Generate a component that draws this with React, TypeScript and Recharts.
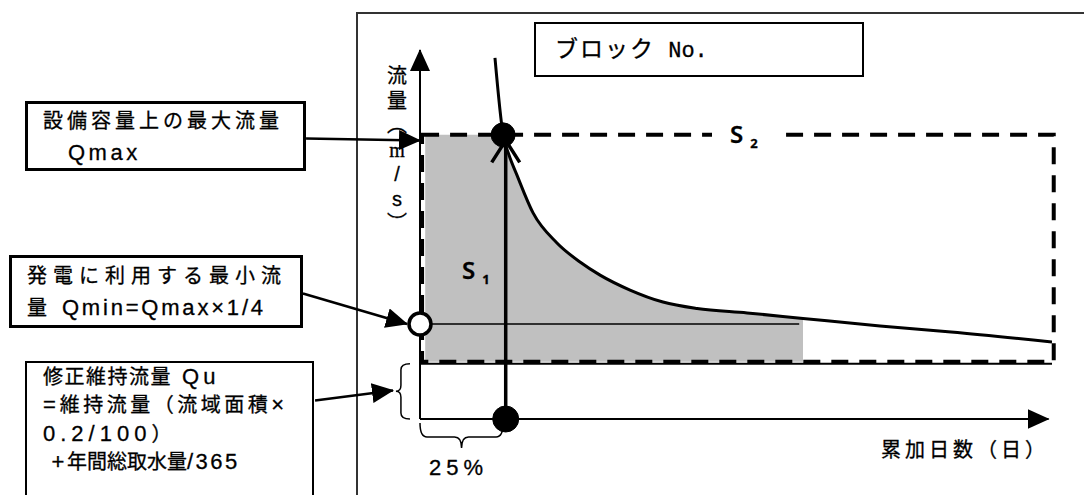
import {
  Area,
  ComposedChart,
  Line,
  ReferenceArea,
  ReferenceDot,
  ReferenceLine,
  XAxis,
  YAxis,
} from 'recharts'

const W = 1084
const H = 495
const FONT = '"Liberation Sans", Arial, "Noto Sans CJK JP", sans-serif'

// 流況曲線：累加日数（日） / 流量（m3/s）
const curveDays = [43.3, 48, 51.4, 56, 65.3, 79.1, 92.4, 104, 121.3, 140.3, 160, 188.9, 221.2, 265.7, 306.7, 365]
const curveFlow = [19.57, 15.4, 14.31, 13.22, 11.17, 9.54, 8.51, 7.8, 6.99, 6.34, 5.99, 5.75, 5.45, 5.04, 4.72, 4.17]

// 軸の範囲
const dayMax = 365
const flowMax = 20
const dayAxisEnd = 363

// 流量の基準値
const qmax = 15.4
const qmin = 5.15
const qu = 3.0

// S1 / S2 の範囲
const s2Bottom = 3.1
const s2Left = 1.2
const s2Right = 366
const s1Start = 3
const s1End = 221.2
const qminEnd = 219

// Qmax との交点と 25% の位置
const crossDay = 48
const arrowDay = 49.5
const arrowTop = 15.1

// 引出線（日, 流量）: 始点 → 矢印先端
const calloutTailDay = [-65.8, -67.6, -60.6]
const calloutTailFlow = [15.2, 6.8, 1.0]
const calloutTipDay = [0, -7.5, -15.6]
const calloutTipFlow = [15.1, 5.15, 1.55]

// 括弧
const quBraceDays = [-13.9, -5.8]
const pctBraceFlow = [-1.57, -0.22]

const curveData = curveDays.map((day, i) => ({ day, flow: curveFlow[i] }))
const s1Data = [
  { day: s1Start, range: [s2Bottom, qmax] },
  ...curveData
    .filter((p) => p.day >= crossDay && p.day <= s1End)
    .map((p) => ({ day: p.day, range: [s2Bottom, Math.min(p.flow, qmax)] })),
]

const LATIN = /[\x20-\x7e×]/

function Mixed({ text, latin = 3, cjk = 0, latinSize = 22 }: { text: string; latin?: number; cjk?: number; latinSize?: number }) {
  const runs = text.match(/[\x20-\x7e×]+|[^\x20-\x7e×]+/g) ?? []
  return (
    <>
      {runs.map((r, i) =>
        LATIN.test(r[0]) ? (
          <span key={i} style={{ fontSize: latinSize, letterSpacing: latin }}>{r}</span>
        ) : (
          <span key={i} style={{ letterSpacing: cjk }}>{r}</span>
        ),
      )}
    </>
  )
}

function LeftBrace({ x, y, width, height }: any) {
  const s = x + 5
  const c = 6
  const cy = y + height / 2
  const d = `M${x + width},${y} Q${s},${y} ${s},${y + c} L${s},${cy - c} Q${s},${cy} ${x},${cy} Q${s},${cy} ${s},${cy + c} L${s},${y + height - c} Q${s},${y + height} ${x + width},${y + height}`
  return <path d={d} fill="none" stroke="#000" strokeWidth={1.5} />
}

function DownBrace({ x, y, width, height }: any) {
  const m = y + height * 0.56
  const c = 7
  const cx = x + width / 2
  const d = `M${x},${y} Q${x},${m} ${x + c},${m} L${cx - c},${m} Q${cx},${m} ${cx},${y + height} Q${cx},${m} ${cx + c},${m} L${x + width - c},${m} Q${x + width},${m} ${x + width},${y}`
  return <path d={d} fill="none" stroke="#000" strokeWidth={1.5} />
}

const box: React.CSSProperties = {
  position: 'absolute',
  boxSizing: 'border-box',
  background: '#fff',
  fontFamily: FONT,
  fontSize: 20,
  color: '#000',
  whiteSpace: 'pre',
  WebkitTextStroke: '0.3px #000',
}

const yLabel = ['流', '量', '︵', 'm', '/', 's', '︶']

export default function App() {
  return (
    <div style={{ position: 'absolute', left: 0, top: 0, width: W, height: H, background: '#fff', overflow: 'hidden' }}>
      <div
        style={{
          position: 'absolute',
          left: 356,
          top: 12,
          width: W,
          height: H,
          borderLeft: '2px solid #333',
          borderTop: '2px solid #333',
        }}
      />
      <div style={{ position: 'absolute', left: 0, top: 0 }}>
        <ComposedChart width={W} height={H} margin={{ top: 50, right: 32, bottom: 76, left: 420 }}>
          <defs>
            <marker
              id="solid-head"
              viewBox="0 0 22 20"
              refX={21}
              refY={10}
              markerWidth={22}
              markerHeight={20}
              markerUnits="userSpaceOnUse"
              orient="auto"
            >
              <path d="M0,0 L22,10 L0,20 Z" fill="#000" />
            </marker>
            <marker
              id="open-head"
              viewBox="-25 -16 28 32"
              refX={0}
              refY={0}
              markerWidth={28}
              markerHeight={32}
              markerUnits="userSpaceOnUse"
              orient="auto"
            >
              <path d="M-22,-14 L0,0 L-22,14" fill="none" stroke="#000" strokeWidth={3.5} />
            </marker>
          </defs>
          <XAxis type="number" dataKey="day" domain={[0, dayMax]} allowDataOverflow hide height={0} />
          <YAxis type="number" domain={[0, flowMax]} allowDataOverflow hide width={0} />
          <Area
            data={s1Data}
            dataKey="range"
            type="monotone"
            stroke="none"
            fill="#c0c0c0"
            fillOpacity={1}
            isAnimationActive={false}
          />
          {/* axes with arrow heads */}
          <ReferenceLine
            segment={[{ x: 0, y: 0 }, { x: 0, y: flowMax }]}
            stroke="#000"
            strokeWidth={2}
            markerEnd="url(#solid-head)"
          />
          <ReferenceLine
            segment={[{ x: 0, y: 0 }, { x: dayAxisEnd, y: 0 }]}
            stroke="#000"
            strokeWidth={2}
            markerEnd="url(#solid-head)"
          />
          <ReferenceLine y={qu} stroke="#000" strokeWidth={2} />
          <ReferenceArea
            x1={s2Left}
            x2={s2Right}
            y1={s2Bottom}
            y2={qmax}
            ifOverflow="visible"
            fill="none"
            fillOpacity={0}
            stroke="#000"
            strokeWidth={4}
            strokeDasharray="17 11"
          />
          <ReferenceLine
            segment={[{ x: 0, y: qmin }, { x: qminEnd, y: qmin }]}
            stroke="#000"
            strokeWidth={1.5}
          />
          <Line
            data={curveData}
            dataKey="flow"
            type="monotone"
            stroke="#000"
            strokeWidth={3}
            dot={false}
            isAnimationActive={false}
          />
          <ReferenceLine
            segment={[{ x: arrowDay, y: 0 }, { x: arrowDay, y: arrowTop }]}
            stroke="#000"
            strokeWidth={3.5}
            markerEnd="url(#open-head)"
          />
          {calloutTailDay.map((d, i) => (
            <ReferenceLine
              key={`callout-${i}`}
              segment={[
                { x: d, y: calloutTailFlow[i] },
                { x: calloutTipDay[i], y: calloutTipFlow[i] },
              ]}
              ifOverflow="visible"
              stroke="#000"
              strokeWidth={2.5}
              markerEnd="url(#solid-head)"
            />
          ))}
          <ReferenceArea
            x1={quBraceDays[0]}
            x2={quBraceDays[1]}
            y1={0}
            y2={qu}
            ifOverflow="visible"
            shape={LeftBrace}
          />
          <ReferenceArea
            x1={0}
            x2={crossDay}
            y1={pctBraceFlow[0]}
            y2={pctBraceFlow[1]}
            ifOverflow="visible"
            shape={DownBrace}
          />
          <ReferenceDot x={crossDay} y={qmax} r={12} fill="#000" stroke="#000" ifOverflow="visible" />
          <ReferenceDot x={arrowDay} y={0} r={13} fill="#000" stroke="#000" ifOverflow="visible" />
          <ReferenceDot x={0} y={qmin} r={11} fill="#fff" stroke="#000" strokeWidth={3.5} ifOverflow="visible" />
        </ComposedChart>
      </div>

      {/* y axis title */}
      <div style={{ position: 'absolute', left: 385, top: 64, width: 24, fontFamily: FONT, fontSize: 20, color: '#000', WebkitTextStroke: '0.3px #000' }}>
        {yLabel.map((c, i) => (
          <div
            key={i}
            style={{
              height: 24.5,
              lineHeight: '24.5px',
              textAlign: 'center',
              fontFamily: c === 'm' ? '"Liberation Serif", serif' : FONT,
            }}
          >
            {c}
          </div>
        ))}
      </div>

      {/* x axis title */}
      <div style={{ ...box, background: 'transparent', left: 881, top: 436, lineHeight: '28px', letterSpacing: 4 }}>
        累加日数（日）
      </div>

      <div style={{ ...box, left: 534, top: 22, width: 330, height: 55, border: '2px solid #000', paddingLeft: 19, lineHeight: '51px', fontSize: 23 }}>
        <span style={{ letterSpacing: 2 }}>ブロック</span>
        <span style={{ fontFamily: '"Liberation Mono", monospace', fontSize: 22 }}> No.</span>
      </div>

      <div style={{ ...box, left: 25, top: 101, width: 281, height: 70, border: '3px solid #000', padding: '2px 0 0 15px', lineHeight: '31px' }}>
        <div><Mixed text="設備容量上の最大流量" cjk={4} /></div>
        <div style={{ paddingLeft: 25 }}><Mixed text="Qmax" latin={3.5} /></div>
      </div>

      <div style={{ ...box, left: 9, top: 255, width: 294, height: 73, border: '3px solid #000', padding: '3px 0 0 15px', lineHeight: '31px' }}>
        <div><Mixed text="発電に利用する最小流" cjk={6} /></div>
        <div><Mixed text="量 Qmin=Qmax×1/4" latin={2.8} cjk={6} /></div>
      </div>

      <div style={{ ...box, left: 25, top: 361, width: 289, height: 160, border: '2px solid #000', padding: '0 0 0 16px', lineHeight: '28.3px' }}>
        <div><Mixed text="修正維持流量 Qu" latin={4} cjk={1.5} /></div>
        <div><Mixed text="=維持流量（流域面積×" latin={4} cjk={3.5} /></div>
        <div><Mixed text="0.2/100）" latin={5} /></div>
        <div><Mixed text=" +年間総取水量/365" latin={2.5} /></div>
      </div>

      <div style={{ ...box, background: 'transparent', left: 429, top: 453, lineHeight: '30px' }}>
        <Mixed text="25%" latin={5} />
      </div>

      <div style={{ ...box, background: 'transparent', left: 462, top: 254, lineHeight: '32px', fontFamily: '"Noto Sans", sans-serif' }}>
        <span style={{ fontSize: 24, fontWeight: 600 }}>S</span>
        <span style={{ fontSize: 13, fontWeight: 700, marginLeft: 7, position: 'relative', top: 5 }}>1</span>
      </div>

      <div style={{ ...box, left: 712, top: 118, width: 72, height: 32, paddingLeft: 18, lineHeight: '32px', fontFamily: '"Noto Sans", sans-serif' }}>
        <span style={{ fontSize: 24, fontWeight: 600 }}>S</span>
        <span style={{ fontSize: 13, fontWeight: 700, marginLeft: 7, position: 'relative', top: 5 }}>2</span>
      </div>
    </div>
  )
}
